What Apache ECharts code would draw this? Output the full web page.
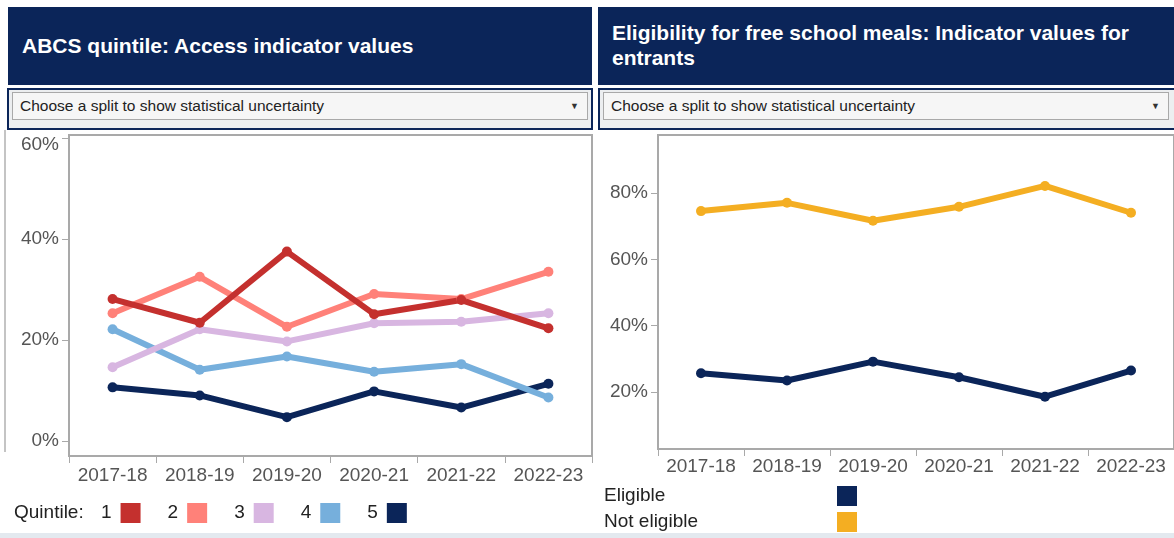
<!DOCTYPE html>
<html>
<head>
<meta charset="utf-8">
<script src="https://cdn.jsdelivr.net/npm/echarts@6/dist/echarts.min.js"></script>
<style>
  html, body { margin: 0; padding: 0; background: #fff; overflow: hidden; }
  body { width: 1174px; height: 538px; position: relative; font-family: 'Liberation Sans', Arial, sans-serif; }
  #chart { position: absolute; left: 0; top: 0; width: 1174px; height: 538px; }
  .hdr {
    position: absolute; top: 7px; height: 78px; background: #0b2559; color: #fff;
    font-weight: bold; font-size: 21px; line-height: 25px; box-sizing: border-box; padding-left: 14px;
  }
  .drop {
    position: absolute; top: 88px; height: 42px; box-sizing: border-box;
    border: 2px solid #0b2559; background: #eceef0;
  }
  .drop .box {
    position: absolute; left: 3px; right: 3px; top: 2px; height: 28px; box-sizing: border-box;
    background: #f6f6f6; border: 1px solid #a9a9a9; font-size: 15.5px; color: #222;
    line-height: 26px; padding-left: 7px;
  }
  .drop .arrow { position: absolute; right: 8px; top: 0; font-size: 9px; color: #333; }
  .edge { position: absolute; background: #c4c4c4; }
  .foot { position: absolute; left: 0; top: 533px; width: 1174px; height: 5px; background: #e3e9ef; }
</style>
</head>
<body>
<div id="chart"></div>
<div class="edge" style="left:4px;top:130px;width:2px;height:322px"></div>
<div class="hdr" style="left:8px;width:584px;padding-top:26px">ABCS quintile: Access indicator values</div>
<div class="hdr" style="left:598px;width:580px;padding-top:13px">Eligibility for free school meals: Indicator values for<br>entrants</div>
<div class="drop" style="left:7px;width:586px"><div class="box">Choose a split to show statistical uncertainty<span class="arrow">&#9660;</span></div></div>
<div class="drop" style="left:598px;width:580px"><div class="box" style="right:7px">Choose a split to show statistical uncertainty<span class="arrow">&#9660;</span></div></div>
<div class="foot"></div>
<script>
const years = ['2017-18', '2018-19', '2019-20', '2020-21', '2021-22', '2022-23']

// ABCS quintile access indicator values (%)
const quintile1 = [28.1, 23.4, 37.5, 25.1, 27.9, 22.3]
const quintile2 = [25.3, 32.5, 22.6, 29.1, 28.1, 33.5]
const quintile3 = [14.6, 22.1, 19.7, 23.3, 23.6, 25.3]
const quintile4 = [22.1, 14.1, 16.7, 13.7, 15.2, 8.6]
const quintile5 = [10.6, 9.0, 4.7, 9.8, 6.6, 11.3]

// Free school meals indicator values for entrants (%)
const eligible = [25.6, 23.4, 29.1, 24.4, 18.5, 26.4]
const notEligible = [74.6, 77.1, 71.7, 75.9, 82.2, 74.1]

const leftTicks = [0, 20, 40, 60]
const rightTicks = [20, 40, 60, 80]

const FONT = "'Liberation Sans', Arial, sans-serif"
const AXIS_GREY = '#a9a9a9'
const LABEL_GREY = '#555'

const xAxisFor = (gridIndex, margin) => ({
  type: 'category',
  gridIndex,
  data: years,
  boundaryGap: true,
  axisLine: { show: false, onZero: false },
  axisTick: { show: true, interval: 0, length: 7, lineStyle: { color: AXIS_GREY, width: 1 } },
  axisLabel: { interval: 0, margin, fontSize: 19, color: LABEL_GREY, fontFamily: FONT },
})

const yAxisFor = (gridIndex, min, max, ticks, formatter) => ({
  type: 'value',
  gridIndex,
  min,
  max,
  axisLine: { show: false },
  splitLine: { show: false },
  axisTick: { show: true, length: 7, customValues: ticks, lineStyle: { color: AXIS_GREY, width: 1 } },
  axisLabel: {
    customValues: ticks,
    margin: 10,
    fontSize: 19,
    color: LABEL_GREY,
    fontFamily: FONT,
    formatter,
    rich: { top: { fontSize: 19, color: LABEL_GREY, fontFamily: FONT, padding: [14, 0, 0, 0] } },
  },
})

const lineSeries = (name, data, color, axisIndex) => ({
  name,
  type: 'line',
  data,
  xAxisIndex: axisIndex,
  yAxisIndex: axisIndex,
  symbol: 'circle',
  symbolSize: 10,
  showSymbol: true,
  lineStyle: { width: 6, color },
  itemStyle: { color },
  emphasis: { disabled: true },
})

const chart = echarts.init(document.getElementById('chart'))

chart.setOption({
  animation: false,
  textStyle: { fontFamily: FONT },
  grid: [
    { left: 69, top: 135, width: 523, height: 321, show: true, borderColor: AXIS_GREY, borderWidth: 2, backgroundColor: '#fff' },
    { left: 658, top: 135, width: 525, height: 314, show: true, borderColor: AXIS_GREY, borderWidth: 2, backgroundColor: '#fff' },
  ],
  xAxis: [xAxisFor(0, 10), xAxisFor(1, 8)],
  yAxis: [
    yAxisFor(0, -3, 60.6, leftTicks, (v) => (v === 60 ? '{top|60%}' : v + '%')),
    yAxisFor(1, 2.7, 97.6, rightTicks, (v) => v + '%'),
  ],
  legend: [
    {
      data: ['1', '2', '3', '4', '5'],
      left: 101,
      top: 503,
      padding: 0,
      itemWidth: 20,
      itemHeight: 20,
      itemGap: 27,
      align: 'right',
      icon: 'rect',
      selectedMode: false,
      textStyle: { fontSize: 19, color: '#222', fontFamily: FONT, padding: [0, 4, 0, 0] },
    },
    {
      data: ['Eligible', 'Not eligible'],
      orient: 'vertical',
      left: 604,
      top: 486,
      padding: 0,
      itemWidth: 20,
      itemHeight: 20,
      itemGap: 6,
      align: 'right',
      icon: 'rect',
      selectedMode: false,
      formatter: (name) => '{a|' + name + '}',
      textStyle: {
        fontSize: 19,
        color: '#222',
        fontFamily: FONT,
        rich: { a: { width: 228, align: 'left', fontSize: 19, color: '#222', fontFamily: FONT } },
      },
    },
  ],
  graphic: [
    {
      type: 'text',
      left: 14,
      top: 503,
      style: { text: 'Quintile:', fontSize: 19, fill: '#222', fontFamily: FONT, lineHeight: 20 },
    },
  ],
  series: [
    lineSeries('5', quintile5, '#0b2559', 0),
    lineSeries('4', quintile4, '#76afdc', 0),
    lineSeries('3', quintile3, '#d8b6e1', 0),
    lineSeries('2', quintile2, '#ff8179', 0),
    lineSeries('1', quintile1, '#c4302e', 0),
    lineSeries('Not eligible', notEligible, '#f4ae22', 1),
    lineSeries('Eligible', eligible, '#0b2559', 1),
  ],
})
</script>
</body>
</html>
